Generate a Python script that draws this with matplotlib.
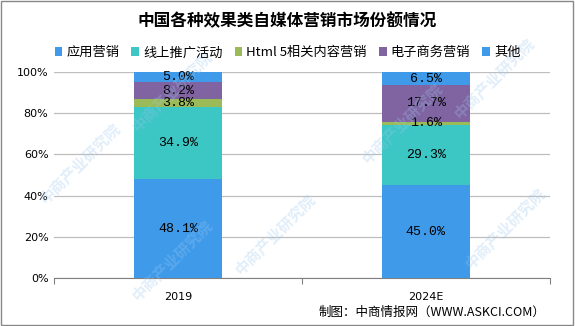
import numpy as np
import matplotlib
matplotlib.use('Agg')
from matplotlib import pyplot as plt
from matplotlib.patches import Rectangle

plt.rcParams['font.family'] = ['Noto Sans CJK SC', 'DejaVu Sans']

# 数据
years = ['2019', '2024E']
series_names = ['应用营销', '线上推广活动', 'Html 5相关内容营销', '电子商务营销', '其他']
app = [48.1, 45.0]
online = [34.9, 29.3]
html5 = [3.8, 1.6]
ecom = [8.2, 17.7]
other = [5.0, 6.5]
colors = ['#3F9BEA', '#3CC6C4', '#9BBB59', '#8064A2', '#3F9BEA']

fig = plt.figure(figsize=(5.75, 3.26), dpi=100)
ax = fig.add_axes([0.094, 0.147, 0.862, 0.632])

x = np.arange(len(years))
bottom = np.zeros(len(years))
for name, vals, c in zip(series_names, [app, online, html5, ecom, other], colors):
    vals = np.array(vals)
    ax.bar(x, vals, 0.355, bottom=bottom, color=c, label=name, zorder=2)
    for xi, v, b in zip(x, vals, bottom):
        ax.text(xi, b + v / 2, f'{v:.1f}%', ha='center', va='center',
                fontsize=9.5, family='Liberation Mono', zorder=3)
    bottom += vals

ax.set_xlim(-0.5, 1.5)
ax.set_ylim(0, 100)
ax.set_yticks(np.arange(0, 101, 20))
ax.set_yticklabels([f'{v}%' for v in range(0, 101, 20)], fontsize=8, family='DejaVu Sans')
ax.yaxis.grid(True, color='#BFBFBF', linewidth=0.9, zorder=0)
ax.tick_params(axis='y', length=0, pad=4)
ax.set_xticks([-0.5, 0.5, 1.5])
ax.set_xticklabels([])
ax.set_xticks(x, minor=True)
ax.set_xticklabels(years, minor=True, fontsize=8, family='DejaVu Sans')
ax.tick_params(axis='x', which='major', length=4, color='#808080')
ax.tick_params(axis='x', which='minor', length=0, pad=10)
for s in ['top', 'right', 'left']:
    ax.spines[s].set_visible(False)
ax.spines['bottom'].set_color('#808080')

# 标题和图例
fig.text(0.5, 0.935, '中国各种效果类自媒体营销市场份额情况', ha='center', va='center',
         fontsize=12, fontweight='bold')
fig.legend(loc='center', bbox_to_anchor=(0.5, 0.838), ncol=5, frameon=False,
           fontsize=9.5, handlelength=0.6, handleheight=0.6, handletextpad=0.3,
           columnspacing=0.9)

fig.text(0.948, 0.043, '制图：中商情报网（WWW.ASKCI.COM）', ha='right', va='center',
         fontsize=9)

# 水印
for wx, wy in [(0.14, 0.5), (0.3, 0.72), (0.48, 0.28), (0.7, 0.62), (0.86, 0.76),
               (0.88, 0.3), (0.3, 0.2)]:
    fig.text(wx, wy, '中商产业研究院', rotation=45, ha='center', va='center',
             fontsize=11, color='#9CC8EE', alpha=0.3, fontweight='bold', zorder=0)

fig.patches.append(Rectangle((0.002, 0.003), 0.995, 0.994, transform=fig.transFigure,
                             fill=False, edgecolor='#888888', linewidth=1))

fig.savefig('out.png', dpi=100)
